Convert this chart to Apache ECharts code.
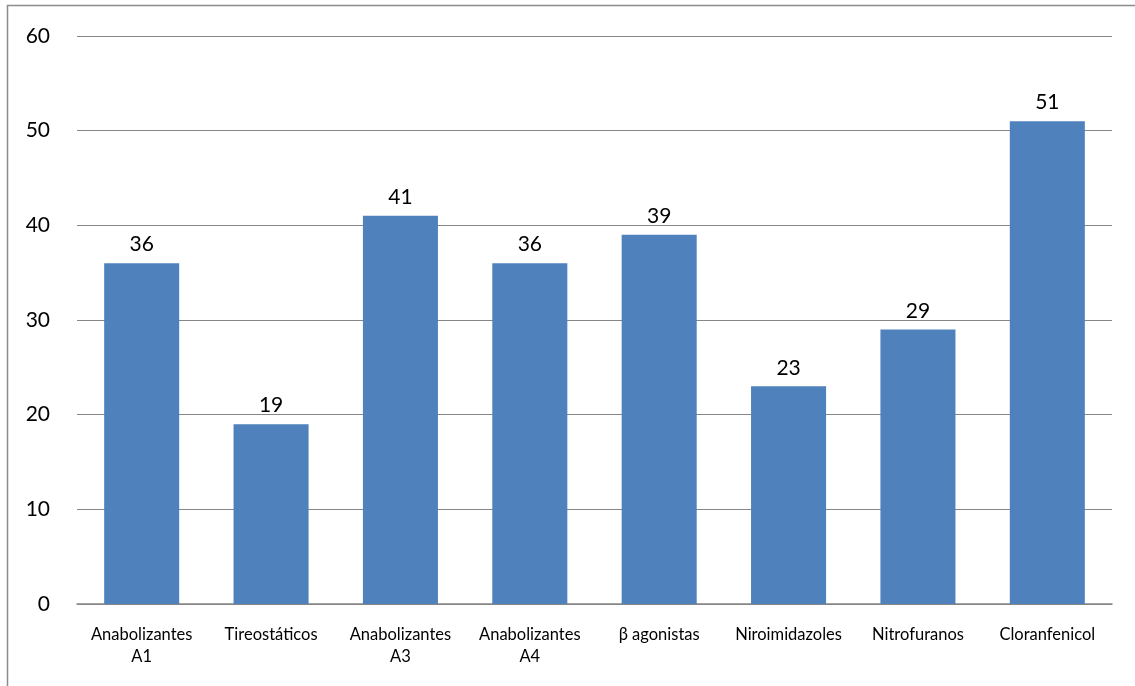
<!DOCTYPE html>
<html>
<head>
<meta charset="utf-8">
<script src="https://cdn.jsdelivr.net/npm/echarts@6/dist/echarts.min.js"></script>
<style>html,body{margin:0;padding:0;background:#fff}#c{width:1135px;height:686px}</style>
</head>
<body>
<div id="c"></div>
<script>
const categories = ["Anabolizantes\nA1", "Tireostáticos", "Anabolizantes\nA3", "Anabolizantes\nA4", "β agonistas", "Niroimidazoles", "Nitrofuranos", "Cloranfenicol"];
const values = [36, 19, 41, 36, 39, 23, 29, 51];
const yTicks = { min: 0, max: 60, interval: 10 };

const chart = echarts.init(document.getElementById('c'));
const font = 'Lato, "Open Sans", sans-serif';
chart.setOption({
  animation: false,
  backgroundColor: '#fff',
  textStyle: { fontFamily: font },
  graphic: [{
    type: 'rect', shape: { x: 7.5, y: 5.5, width: 1300, height: 900 },
    style: { fill: 'none', stroke: '#8c8c8c', lineWidth: 1.5 }, silent: true, z: -1
  }],
  grid: { left: 77, right: 23, top: 36, bottom: 82 },
  xAxis: {
    type: 'category', data: categories,
    axisLine: { lineStyle: { color: '#878787', width: 1.5 } },
    axisTick: { show: false },
    axisLabel: { color: '#000', fontSize: 16.5, fontFamily: font, margin: 20, lineHeight: 22, interval: 0 }
  },
  yAxis: {
    type: 'value', min: yTicks.min, max: yTicks.max, interval: yTicks.interval,
    axisLine: { show: false }, axisTick: { show: false },
    axisLabel: { color: '#000', fontSize: 21, fontFamily: font, margin: 27 },
    splitLine: { lineStyle: { color: '#878787', width: 1.2 } }
  },
  series: [{
    type: 'bar', data: values, barWidth: '58%',
    itemStyle: { color: '#4F81BD' },
    label: { show: true, position: 'top', distance: 8, color: '#000', fontSize: 21, fontFamily: font }
  }]
});
</script>
</body>
</html>
